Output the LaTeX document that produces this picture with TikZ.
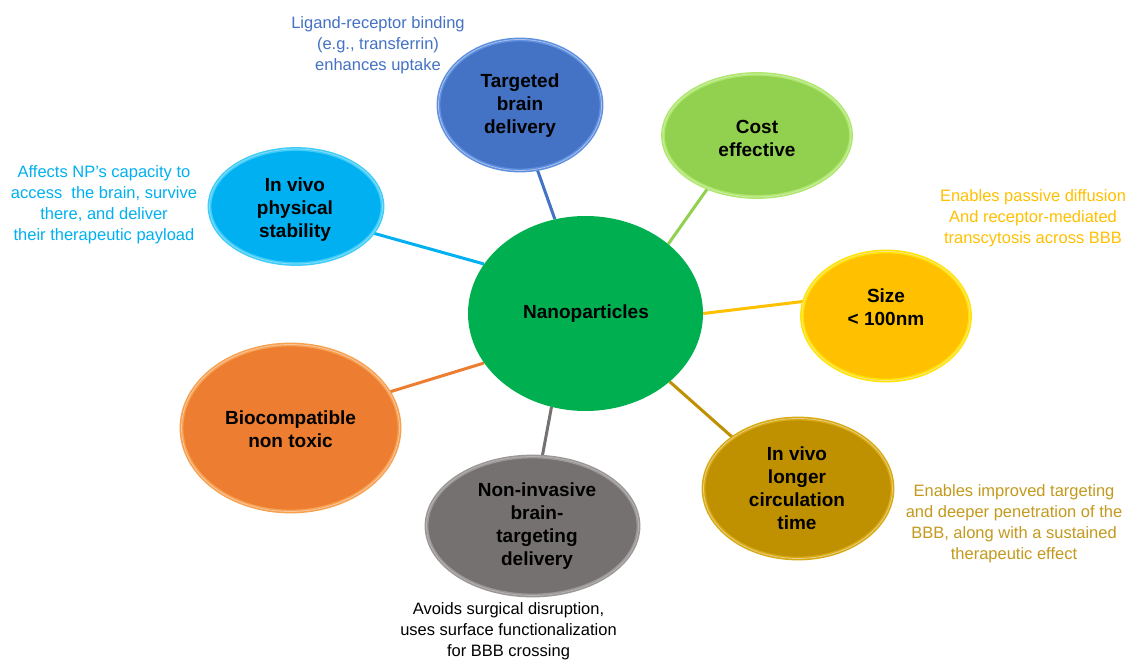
\documentclass[tikz,border=0pt]{standalone}
\usepackage{fontspec}
\setmainfont{Liberation Sans}
\usetikzlibrary{shapes.geometric,backgrounds}
\definecolor{cNano}{HTML}{00B050}
\definecolor{cBlue}{HTML}{4472C4}
\definecolor{cBlueL}{HTML}{5E90E2}
\definecolor{cLime}{HTML}{92D050}
\definecolor{cLimeL}{HTML}{AEE86A}
\definecolor{cCyan}{HTML}{00B0F0}
\definecolor{cCyanL}{HTML}{3DCDF8}
\definecolor{cYel}{HTML}{FFC000}
\definecolor{cYelL}{HTML}{FFE400}
\definecolor{cOra}{HTML}{ED7D31}
\definecolor{cOraL}{HTML}{F7A04E}
\definecolor{cGray}{HTML}{767171}
\definecolor{cGrayL}{HTML}{9C9797}
\definecolor{cGold}{HTML}{BF9000}
\definecolor{cGoldL}{HTML}{D9AA10}
\definecolor{cGoldT}{HTML}{C39A1E}
\begin{document}
\begin{tikzpicture}[x=1pt,y=-1pt,
  bubble/.style={ellipse, inner sep=0pt, line width=1.5pt, double distance=0.8pt},
  nano/.style={ellipse, inner sep=0pt, fill=cNano},
  btext/.style={font=\bfseries\fontsize{19}{23}\selectfont, align=center, text=black, inner sep=0pt},
  note/.style={font=\fontsize{16.5}{21}\selectfont, align=center, inner sep=0pt},
  link/.style={line width=3pt}]
\useasboundingbox (0,0) rectangle (1132,660);

% bubbles
\node[nano, minimum width=235pt, minimum height=195pt] (np) at (585.5,313.5) {};
\node[bubble, fill=cBlue, draw=cBlueL, double=white!55!cBlue, minimum width=163pt, minimum height=131pt] (tbd) at (520,105) {};
\node[bubble, fill=cLime, draw=cLimeL, double=white!55!cLime, minimum width=188pt, minimum height=123pt] (cost) at (757,135.5) {};
\node[bubble, fill=cCyan, draw=cCyanL, double=white!55!cCyan, minimum width=173pt, minimum height=115pt] (ivps) at (296,206.5) {};
\node[bubble, fill=cYel, draw=cYelL, double=white!55!cYel, minimum width=168pt, minimum height=129pt] (size) at (886,316) {};
\node[bubble, fill=cOra, draw=cOraL, double=white!55!cOra, minimum width=218pt, minimum height=167pt] (bio) at (290.5,428) {};
\node[bubble, fill=cGray, draw=cGrayL, double=white!45!cGray, minimum width=212pt, minimum height=139pt] (noninv) at (532.5,526) {};
\node[bubble, fill=cGold, draw=cGoldL, double=white!55!cGold, minimum width=189pt, minimum height=140pt] (circ) at (798,488.5) {};

% bubble texts
\node[btext] (npT) at (586,314) {Nanoparticles};
\node[btext] (tbdT) at (520,106) {Targeted\\brain\\delivery};
\node[btext] (costT) at (757,138.5) {Cost\\effective};
\node[btext] (ivpsT) at (295,210) {In vivo\\physical\\stability};
\node[btext] (sizeT) at (886,307) {Size\\< 100nm};
\node[btext] (bioT) at (290.5,429.5) {Biocompatible\\non toxic};
\node[btext] (noninvT) at (537,526) {Non-invasive\\brain-\\targeting\\delivery};
\node[btext] (circT) at (797,488) {In vivo\\longer\\circulation\\time};

% connectors
\begin{scope}[on background layer]
\fill[white] (0,0) rectangle (1132,660);
\draw[link, cBlue] (tbd.-75.6) -- (np.108);
\draw[link, cLime] (cost.-133) -- (np.40.5);
\draw[link, cCyan] (ivps.-19.7) -- (np.154.7);
\draw[link, cYel] (size.170) -- (np.0);
\draw[link, cOra] (bio.20.8) -- (np.-154.2);
\draw[link, cGray] (noninv.82) -- (np.-110.9);
\draw[link, cGold] (circ.142.9) -- (np.-39.7);
\end{scope}

% annotations
\node[note, text=cBlue] (nBlue) at (378,45.5) {Ligand-receptor binding\\(e.g., transferrin)\\enhances uptake};
\node[note, text=cCyan] (nCyan) at (104,205) {Affects NP's capacity to\\access\ \ the brain, survive\\there, and deliver\\their therapeutic payload};
\node[note, text=cYel] (nYel) at (1033,218) {Enables passive diffusion\\And receptor-mediated\\transcytosis across BBB};
\node[note, text=cGoldT] (nGold) at (1014,523.5) {Enables improved targeting\\and deeper penetration of the\\BBB, along with a sustained\\therapeutic effect};
\node[note, text=black] (nGray) at (508.5,631.5) {Avoids surgical disruption,\\uses surface functionalization\\for BBB crossing};
\end{tikzpicture}
\end{document}
